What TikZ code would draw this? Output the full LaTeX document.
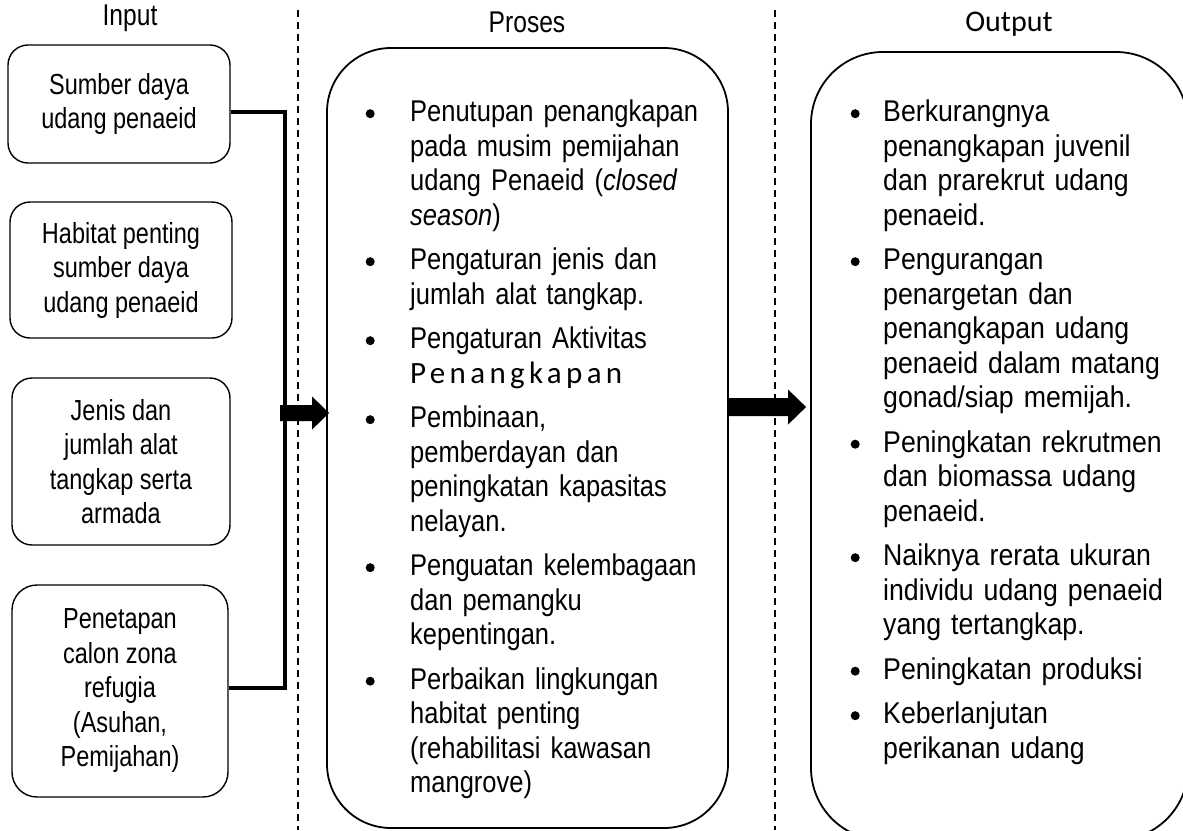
\documentclass[tikz,border=0pt]{standalone}
\usepackage{fontspec}
\setmainfont{Liberation Sans}
\newfontfamily\procfont[FakeStretch=0.85]{Liberation Sans}
\newfontfamily\outfont[FakeStretch=0.89]{Liberation Sans}
\newfontfamily\infont[FakeStretch=0.81]{Liberation Sans}
\newfontfamily\headfont[FakeStretch=0.82]{Liberation Sans}
\newfontfamily\carlfont{Carlito}
\newfontfamily\carlwide[LetterSpace=14]{Carlito}
\usetikzlibrary{calc}
\newcommand\bul{\tikz[baseline=-7.8pt]\fill (0,0) circle (4.5pt);}
\newcommand\itm[2]{\par\hangindent=#1pt\hangafter=1\noindent\makebox[#1pt][l]{\bul}#2\par}
\tikzset{
  inbox/.style={draw, line width=1.4pt, rounded corners=20pt, inner sep=0pt, align=center,
    font=\infont\fontsize{29}{34.5}\selectfont},
  bigbox/.style={draw, line width=1.8pt, inner sep=0pt},
  listtxt/.style={inner sep=0pt, anchor=north west, align=left},
  headtxt/.style={inner sep=0pt, font=\headfont\fontsize{30}{34}\selectfont},
  bus/.style={line width=4.5pt},
  sep/.style={line width=1.2pt, dash pattern=on 7pt off 5pt},
}
\begin{document}
\begin{tikzpicture}[x=1pt,y=-1pt]
\useasboundingbox (0,0) rectangle (1183,830);
% separators
\draw[sep] (298,10) -- (298,830);
\draw[sep] (775,10) -- (775,830);
% headings
\node[headtxt] (hin) at (130,18) {Input};
\node[headtxt] (hpr) at (527,22) {Proses};
\node[inner sep=0pt, font=\carlfont\fontsize{30}{34}\selectfont] (hout) at (1009,24) {Output};
% input boxes
\node[inbox, minimum width=222, minimum height=118] (b1) at (119,104) {Sumber daya\\udang penaeid};
\node[inbox, minimum width=222, minimum height=136] (b2) at (121,270) {Habitat penting\\sumber daya\\udang penaeid};
\node[inbox, minimum width=218, minimum height=167] (b3) at (121,461.5) {Jenis dan\\jumlah alat\\tangkap serta\\armada};
\node[inbox, minimum width=216, minimum height=212, rounded corners=25pt] (b4) at (120,691) {Penetapan\\calon zona\\refugia\\(Asuhan,\\Pemijahan)};
% process and output boxes
\node[bigbox, rounded corners=64pt, minimum width=401, minimum height=780] (proc) at (527.5,438) {};
\node[bigbox, rounded corners=72pt, minimum width=377, minimum height=788] (out) at (999.5,446) {};
% bus connectors
\coordinate (bt) at (285,112);
\coordinate (bb) at (285,688);
\draw[bus] ($(b1.east)+(0,8)$) -- (bt) -- (bb) -- ($(b4.east)+(0,-3)$);
\draw[bus] ($(b2.east)+(0,4)$) -- ($(b2.east)+(0,4)$ -| bt);
\draw[bus] ($(b3.east)+(0,0.5)$) -- ($(b3.east)+(0,0.5)$ -| bt);
% arrow 1
\coordinate (a1) at (280,413);
\coordinate (t1) at ($(proc.west |- a1)+(3,0)$);
\fill ($(a1)+(0,-8)$) -- ($(t1)+(-17,-8)$) -- ($(t1)+(-17,-16.5)$) -- (t1)
  -- ($(t1)+(-17,16.5)$) -- ($(t1)+(-17,8)$) -- ($(a1)+(0,8)$) -- cycle;
% arrow 2
\coordinate (a2) at ($(proc.east)+(0,-31)$);
\coordinate (t2) at ($(out.west |- a2)+(-4,0)$);
\fill ($(a2)+(0,-9)$) -- ($(t2)+(-18,-9)$) -- ($(t2)+(-18,-17.5)$) -- (t2)
  -- ($(t2)+(-18,17.5)$) -- ($(t2)+(-18,9)$) -- ($(a2)+(0,9)$) -- cycle;
% process list
\node[listtxt, text width=360pt, font=\procfont\fontsize{30}{34.5}\selectfont] (ptxt) at (365.5,86.8) {%
\itm{44.5}{\strut Penutupan penangkapan\newline pada musim pemijahan\newline udang Penaeid (\textit{closed}\newline\textit{season})}\vspace{10pt}
\itm{44.5}{Pengaturan jenis dan\newline jumlah alat tangkap.}\vspace{10pt}
\itm{44.5}{Pengaturan Aktivitas\newline{\carlwide\fontsize{31}{34.5}\selectfont Penangkapan}}\vspace{10pt}
\itm{44.5}{Pembinaan,\newline pemberdayan dan\newline peningkatan kapasitas\newline nelayan.}\vspace{10pt}
\itm{44.5}{Penguatan kelembagaan\newline dan pemangku\newline kepentingan.}\vspace{10pt}
\itm{44.5}{Perbaikan lingkungan\newline habitat penting\newline (rehabilitasi kawasan\newline mangrove)}};
% output list
\node[listtxt, text width=320pt, font=\outfont\fontsize{30}{34.5}\selectfont] (otxt) at (850.5,86.8) {%
\itm{32.5}{\strut Berkurangnya\newline penangkapan juvenil\newline dan prarekrut udang\newline penaeid.}\vspace{10pt}
\itm{32.5}{Pengurangan\newline penargetan dan\newline penangkapan udang\newline penaeid dalam matang\newline gonad/siap memijah.}\vspace{10pt}
\itm{32.5}{Peningkatan rekrutmen\newline dan biomassa udang\newline penaeid.}\vspace{10pt}
\itm{32.5}{Naiknya rerata ukuran\newline individu udang penaeid\newline yang tertangkap.}\vspace{10pt}
\itm{32.5}{Peningkatan produksi}\vspace{10pt}
\itm{32.5}{Keberlanjutan\newline perikanan udang}};
\end{tikzpicture}
\end{document}
